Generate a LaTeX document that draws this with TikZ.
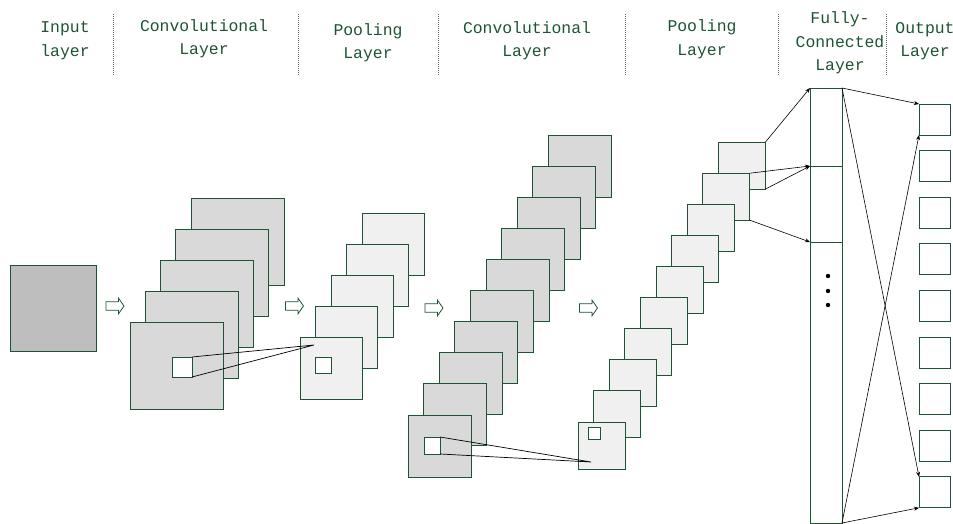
\documentclass[tikz,border=0pt]{standalone}
\usepackage{fontspec}
\setmonofont{Liberation Mono}
\usetikzlibrary{arrows.meta,shapes.arrows}

\definecolor{netgreen}{RGB}{28,84,52}
\definecolor{inputgray}{RGB}{190,190,190}
\definecolor{convgray}{RGB}{217,217,217}
\definecolor{poolgray}{RGB}{240,240,240}

\tikzset{
  fmap/.style={draw=netgreen, line width=0.9pt, inner sep=0pt, outer sep=0pt,
    anchor=north west},
  title/.style={text=netgreen, align=center,
    font=\ttfamily\fontsize{16.4}{23.5}\selectfont},
  sep/.style={draw=black!60, line width=0.8pt, dash pattern=on 1pt off 1pt},
  step arrow/.style={single arrow, draw=netgreen, fill=white, line width=0.8pt,
    minimum height=18pt, inner sep=3.8pt, single arrow head extend=3.5pt,
    single arrow tip angle=110},
  link/.style={-{Stealth[length=5pt,width=4pt]}, line width=0.6pt},
}

\begin{document}
\begin{tikzpicture}[x=1pt, y=-1pt]
    \useasboundingbox (0,0) rectangle (953,524);

    % layer titles
    \node[title] (tin) at (65,40.5) {Input\\layer};
    \node[title] (tc1) at (204,39) {Convolutional\\Layer};
    \node[title] (tp1) at (368,43) {Pooling\\Layer};
    \node[title] (tc2) at (527,41) {Convolutional\\Layer};
    \node[title] (tp2) at (702,39.5) {Pooling\\Layer};
    \node[title] (tfc) at (840,43) {Fully-\\Connected\\Layer};
    \node[title] (tout) at (925,41) {Output\\Layer};
    \foreach \x in {113,298,438,625,778,886}
        \draw[sep] (\x,14) -- (\x,76);

    % input image
    \node[fmap, fill=inputgray, minimum width=86pt, minimum height=86pt] (in) at (10,265) {};

    % first convolution
    \foreach \i in {5,...,1}
        \node[fmap, fill=convgray, minimum width=93pt, minimum height=87pt]
            (c1-\i) at ({130+15.3*(\i-1)},{322-31*(\i-1)}) {};
    \node[fmap, fill=white, minimum width=20pt, minimum height=20pt] (w1) at (172,357) {};

    % first pooling
    \foreach \i in {5,...,1}
        \node[fmap, fill=poolgray, minimum width=62pt, minimum height=62pt]
            (p1-\i) at ({300+15.5*(\i-1)},{337-31*(\i-1)}) {};
    \node[fmap, fill=white, minimum width=16pt, minimum height=16pt] (w2) at (315,357) {};

    % second convolution
    \foreach \i in {10,...,1}
        \node[fmap, fill=convgray, minimum width=63pt, minimum height=62pt]
            (c2-\i) at ({408+15.6*(\i-1)},{415-31.1*(\i-1)}) {};
    \node[fmap, fill=white, minimum width=16pt, minimum height=17pt] (w3) at (424,437) {};

    % second pooling
    \foreach \i in {10,...,1}
        \node[fmap, fill=poolgray, minimum width=47pt, minimum height=47pt]
            (p2-\i) at ({578+15.6*(\i-1)},{422-31.1*(\i-1)}) {};
    \node[fmap, fill=white, minimum width=12pt, minimum height=12pt] (w4) at (588,427) {};

    % arrows between stages
    \node[step arrow] (a1) at (113.5,306) {};
    \node[step arrow] (a2) at (293,306) {};
    \node[step arrow] (a3) at (432.5,308) {};
    \node[step arrow] (a4) at (587,308) {};

    % receptive fields
    \coordinate (t1) at (314,345);
    \coordinate (t2) at (591,462);
    \draw[line width=0.7pt] (w1.north east) -- (t1) -- (w1.south east);
    \draw[line width=0.7pt] (w3.north east) -- (t2) -- (w3.south east);

    % fully connected column
    \node[fmap, minimum width=32pt, minimum height=78pt] (fc1) at (810,88) {};
    \node[fmap, minimum width=32pt, minimum height=76pt] (fc2) at (810,166) {};
    \node[fmap, minimum width=32pt, minimum height=281pt] (fc3) at (810,242) {};
    \foreach \y in {276,291,305}
        \fill (828,\y) circle (2.2pt);

    % outputs
    \foreach \i in {1,...,9}
        \node[fmap, minimum width=31pt, minimum height=31pt] (o\i) at (919,{104+46.6*(\i-1)}) {};

    % connections
    \draw[link] (p2-10.north east) -- (fc1.north west);
    \draw[link] (p2-9.north east) -- (fc2.north west);
    \draw[link] (p2-10.south east) -- (fc2.north west);
    \draw[link] (p2-9.south east) -- (fc3.north west);
    \draw[link] (fc1.north east) -- (o1.north west);
    \draw[link] (fc1.north east) -- (o9.north west);
    \draw[link] (fc3.south east) -- (o1.south west);
    \draw[link] (fc3.south east) -- (o9.south west);
\end{tikzpicture}
\end{document}
